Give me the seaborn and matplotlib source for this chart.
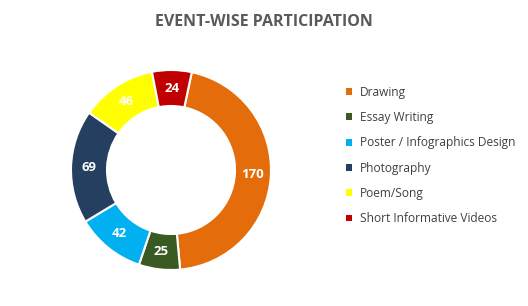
import matplotlib
matplotlib.use("Agg")
import matplotlib.pyplot as plt
from matplotlib.patches import Patch
import numpy as np
import seaborn as sns

categories = ["Drawing", "Essay Writing", "Poster / Infographics Design",
              "Photography", "Poem/Song", "Short Informative Videos"]
values = [170, 25, 42, 69, 46, 24]
colors = ["#E46C0A", "#3A5A24", "#00B0F0", "#243F60", "#FFFF00", "#C00000"]
title = "EVENT-WISE PARTICIPATION"

sns.set_theme(style="white")
plt.rcParams['font.family'] = ['Open Sans', 'DejaVu Sans']

fig = plt.figure(figsize=(5.28, 3.06), dpi=100)
cx, cy, r = 171, 170, 102
ax = fig.add_axes([(cx - r) / 528, (306 - cy - r) / 306, 2 * r / 528, 2 * r / 306])
pal = sns.color_palette(colors)
wedges, texts = ax.pie(values, colors=pal, startangle=78, counterclock=False,
                       radius=1.0,
                       wedgeprops=dict(width=0.36, edgecolor="white", linewidth=1.5))
for w, v in zip(wedges, values):
    ang = np.deg2rad((w.theta1 + w.theta2) / 2)
    rr = 0.82
    ax.text(rr * np.cos(ang), rr * np.sin(ang), str(v), ha="center", va="center",
            color="white", fontsize=9.5, fontweight="bold")
ax.set_xlim(-1.02, 1.02)
ax.set_ylim(-1.02, 1.02)
ax.set_aspect("equal")
ax.axis("off")

fig.text(0.5, 1 - 22 / 306, title, ha="center", va="center", fontsize=11.5,
         fontweight="bold", color="#595959")

handles = [Patch(facecolor=c, edgecolor="none") for c in colors]
leg = fig.legend(handles, categories, loc="upper left",
                 bbox_to_anchor=(341 / 528, 1 - 81 / 306), frameon=False,
                 fontsize=8.6, handlelength=0.5, handleheight=0.5,
                 handletextpad=0.65, labelspacing=1.03, borderaxespad=0)
for t in leg.get_texts():
    t.set_color("#404040")

fig.savefig("out.png", dpi=100)
